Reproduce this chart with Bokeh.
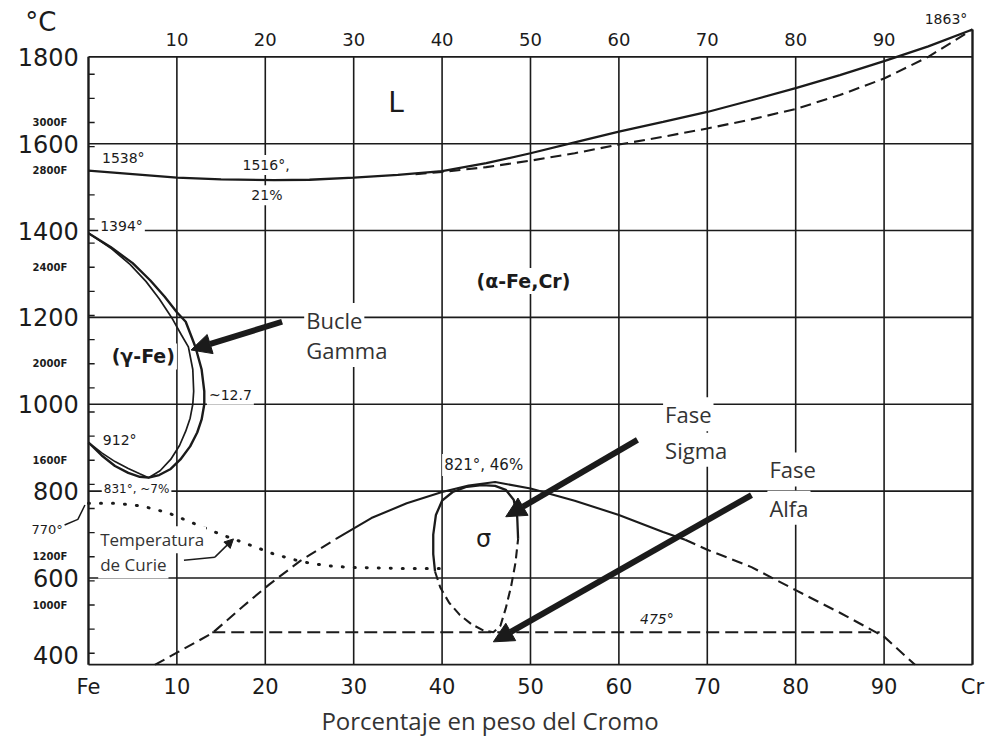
from bokeh.plotting import figure
from bokeh.models import FixedTicker, Arrow, NormalHead, Range1d
from bokeh.core.properties import value
from bokeh.embed import file_html
from bokeh.resources import INLINE

# ---------------- axis / tick data ----------------
x_ticks = [0, 10, 20, 30, 40, 50, 60, 70, 80, 90, 100]
x_tick_labels = ["Fe", "10", "20", "30", "40", "50", "60", "70", "80", "90", "Cr"]
grid_x = [10, 20, 30, 40, 50, 60, 70, 80, 90]
grid_T = [600, 800, 1000, 1200, 1400, 1600, 1800]
c_ticks = [400, 600, 800, 1000, 1200, 1400, 1600, 1800]
f_ticks = list(range(800, 3201, 100))
f_labeled = [3000, 2800, 2400, 2000, 1600, 1200, 1000]

# ---------------- phase boundary data (%Cr, degC) ----------------
liq_x = [0, 5, 10, 15, 21, 25, 30, 35, 40, 45, 50, 55, 60, 65, 70, 75, 80, 85, 90, 95, 100]
liq_T = [1538, 1530, 1522, 1518, 1516, 1517, 1522, 1528, 1537, 1555, 1578, 1603, 1628, 1650,
         1673, 1700, 1728, 1758, 1790, 1824, 1863]
sol_x = [37, 40, 45, 50, 55, 60, 65, 70, 75, 80, 85, 90, 95, 100]
sol_T = [1530, 1535, 1546, 1561, 1578, 1598, 1616, 1635, 1656, 1680, 1712, 1750, 1800, 1863]

gam_out_x = [0, 2.5, 5, 7, 8.6, 10, 11.0, 12.1, 12.8, 13.1, 13.1, 12.8, 12.3, 11.5, 10.4,
             9.3, 8.0, 6.8, 5.8, 4.5, 3.0, 1.5, 0]
gam_out_T = [1394, 1362, 1325, 1285, 1248, 1212, 1190, 1132, 1080, 1030, 1000, 965, 935, 903,
             873, 851, 837, 831, 833, 842, 858, 882, 912]
gam_in_x = [0, 2.5, 4.7, 6.5, 8.0, 9.4, 10.5, 11.3, 11.8, 11.9, 11.8, 11.5, 11.0, 10.3, 9.3,
            8.1, 6.8, 5.8, 4.5, 3.0, 1.5, 0]
gam_in_T = [1394, 1360, 1322, 1283, 1243, 1200, 1160, 1132, 1080, 1030, 1000, 968, 938, 905,
            873, 847, 831, 840, 852, 868, 888, 912]

curie_x = [0, 3, 6, 9, 12, 15, 18, 21, 24, 27, 30, 35, 40]
curie_T = [772, 772, 766, 750, 725, 700, 678, 655, 638, 628, 624, 622, 622]

dome_l_dash_x = [7.5, 10, 14, 17.5, 20.5, 24, 28]
dome_l_dash_T = [400, 428, 473, 535, 586, 640, 690]
dome_solid_x = [28, 32, 36, 40, 43, 46, 50, 55, 60, 65, 67.5]
dome_solid_T = [690, 738, 772, 798, 813, 821, 806, 778, 745, 706, 688]
dome_r_dash_x = [67.5, 70, 75, 80, 85, 90, 93.5]
dome_r_dash_T = [688, 665, 625, 572, 520, 465, 400]

line475_x = [14, 89.5]
line475_T = [475, 475]

sig_solid_x = [48.6, 48.5, 48.1, 47.2, 46.0, 44.5, 42.8, 41.2, 40.0, 39.3, 39.0, 39.0, 39.2]
sig_solid_T = [690, 740, 780, 803, 812, 814, 810, 798, 778, 745, 700, 655, 615]
sig_dash_x = [39.2, 39.8, 40.8, 42.0, 43.3, 44.6, 45.8, 46.6, 47.2, 47.8, 48.3, 48.6]
sig_dash_T = [615, 578, 543, 515, 494, 480, 475, 490, 530, 580, 635, 690]

INK = "#1b1b1b"
NOTE = "#333333"
DASH = "11 6"

p = figure(width=985, height=740, output_backend="svg", toolbar_location=None,
           x_range=Range1d(-9.5, 100.34), y_range=Range1d(398.5, 1920.5),
           min_border_left=4, min_border_right=10, min_border_top=4, min_border_bottom=75)
p.outline_line_color = None
p.xgrid.visible = False
p.ygrid.visible = False
p.yaxis.visible = False
p.background_fill_color = "white"
p.border_fill_color = "white"

# bottom axis
xa = p.xaxis[0]
xa.ticker = FixedTicker(ticks=x_ticks)
xa.major_label_overrides = {t: s for t, s in zip(x_ticks, x_tick_labels)}
xa.axis_line_color = None
xa.major_tick_line_color = None
xa.minor_tick_line_color = None
xa.major_tick_out = 0
xa.major_label_text_font = "DejaVu Sans"
xa.major_label_text_font_size = "21px"
xa.major_label_text_color = INK
xa.major_label_standoff = 9
xa.axis_label = "Porcentaje en peso del Cromo"
xa.axis_label_text_font = "Open Sans"
xa.axis_label_text_font_size = "24px"
xa.axis_label_text_font_style = "normal"
xa.axis_label_text_color = NOTE
xa.axis_label_standoff = 2

# grid lines and frame
p.segment(x0=grid_x, y0=[400] * len(grid_x), x1=grid_x, y1=[1800] * len(grid_x),
          line_color=INK, line_width=1.6)
p.segment(x0=[0] * len(grid_T), y0=grid_T, x1=[100] * len(grid_T), y1=grid_T,
          line_color=INK, line_width=1.6)
p.segment(x0=[0, 100, 0], y0=[400, 400, 400], x1=[0, 100, 100], y1=[1800, liq_T[-1], 400],
          line_color=INK, line_width=2.4)
# Fahrenheit ticks on the left edge
f_c = [(f - 32) * 5 / 9 for f in f_ticks]
p.segment(x0=[0] * len(f_c), y0=f_c, x1=[0.7] * len(f_c), y1=f_c, line_color=INK, line_width=1.4)

# left (degC) tick labels (the lowest one sits just above the bottom edge) and Fahrenheit labels
label_y = [c_ticks[0] + 23] + c_ticks[1:]
p.text(x=[-1.1] * len(c_ticks), y=label_y, text=[str(v) for v in c_ticks],
       text_font=value("DejaVu Sans"), text_font_size="24px", text_align="right",
       text_baseline="middle", text_color=INK)
p.text(x=[-2.4] * len(f_labeled), y=[(f - 32) * 5 / 9 for f in f_labeled],
       text=[f"{f}F" for f in f_labeled], text_font=value("DejaVu Sans"), text_font_size="10px",
       text_font_style="bold", text_align="right", text_baseline="middle", text_color=INK)
# top labels
p.text(x=grid_x, y=[1839] * len(grid_x), text=[str(v) for v in grid_x],
       text_font=value("DejaVu Sans"), text_font_size="18px", text_align="center",
       text_baseline="middle", text_color=INK)

# curves
p.line(liq_x, liq_T, line_color=INK, line_width=2.3)
p.line(sol_x, sol_T, line_color=INK, line_width=2.1, line_dash=DASH)
p.line(gam_out_x, gam_out_T, line_color=INK, line_width=2.4)
p.line(gam_in_x, gam_in_T, line_color=INK, line_width=1.7)
p.line(curie_x, curie_T, line_color=INK, line_width=3, line_dash="1 11", line_cap="round")
p.line(dome_l_dash_x, dome_l_dash_T, line_color=INK, line_width=2.1, line_dash=DASH)
p.line(dome_solid_x, dome_solid_T, line_color=INK, line_width=2.1)
p.line(dome_r_dash_x, dome_r_dash_T, line_color=INK, line_width=2.1, line_dash=DASH)
p.line(line475_x, line475_T, line_color=INK, line_width=2.1, line_dash="13 6")
p.line(sig_solid_x, sig_solid_T, line_color=INK, line_width=2.3)
p.line(sig_dash_x, sig_dash_T, line_color=INK, line_width=2.1, line_dash="9 5")


def txt(x, y, s, size, align="center", font="DejaVu Sans", color=INK, bg=True, style="normal"):
    kw = {}
    if bg:
        kw = dict(background_fill_color="white", padding=2)
    p.text(x=[x], y=[y], text=[s], text_font=value(font), text_font_size=f"{size}px",
           text_align=align, text_baseline="middle", text_color=color,
           text_font_style=style, **kw)


txt(-5.4, 1880, "°C", 26, bg=False)
txt(-2.9, 712, "770°", 13, align="right", bg=False)
p.line([-2.7, -1.2, -0.4], [722, 735, 768], line_color=INK, line_width=1.5)

txt(34.8, 1694, "L", 28)
txt(1.3, 1567, "1538°", 14, align="left")
txt(17.2, 1551, "1516°,", 14, align="left")
txt(18.2, 1481, "21%", 14, align="left")
txt(1.1, 1411, "1394°", 14, align="left")
txt(49.2, 1284, "(α-Fe,Cr)", 19, style="bold")
txt(6.2, 1110, "(γ-Fe)", 19, style="bold")
txt(13.4, 1022, "~12.7", 14, align="left")
txt(1.4, 918, "912°", 14, align="left")
txt(1.5, 804, "831°, ~7%", 12, align="left")
txt(44.7, 860, "821°, 46%", 15)
txt(44.7, 690, "σ", 24)
txt(64.3, 505, "475°", 14, style="italic")
txt(97.0, 1888, "1863°", 14, bg=False)
txt(1.1, 688, "Temperatura", 17, align="left", font="Open Sans", color=NOTE)
txt(1.1, 630, "de Curie", 17, align="left", font="Open Sans", color=NOTE)
txt(24.4, 1194, "Bucle", 22, align="left", font="Open Sans", color=NOTE)
txt(24.4, 1125, "Gamma", 22, align="left", font="Open Sans", color=NOTE)
txt(65.0, 977, "Fase", 22, align="left", font="Open Sans", color=NOTE)
txt(65.0, 895, "Sigma", 22, align="left", font="Open Sans", color=NOTE)
txt(76.8, 850, "Fase", 22, align="left", font="Open Sans", color=NOTE)
txt(76.8, 762, "Alfa", 22, align="left", font="Open Sans", color=NOTE)

# pointer arrows
p.add_layout(Arrow(end=NormalHead(size=9, fill_color=INK, line_color=INK),
                   x_start=14.3, y_start=648, x_end=16.4, y_end=690, line_color=INK, line_width=1.5))
p.line([10.8, 14.3], [641, 648], line_color=INK, line_width=1.5)

head = dict(size=20, fill_color=INK, line_color=INK)
p.add_layout(Arrow(end=NormalHead(**head), x_start=21.9, y_start=1190, x_end=11.6, y_end=1125,
                   line_color=INK, line_width=6))
p.add_layout(Arrow(end=NormalHead(**head), x_start=62.1, y_start=918, x_end=47.2, y_end=741,
                   line_color=INK, line_width=6))
p.add_layout(Arrow(end=NormalHead(**head), x_start=75.0, y_start=791, x_end=45.8, y_end=453,
                   line_color=INK, line_width=6))

open("out.html", "w").write(file_html(p, INLINE))
